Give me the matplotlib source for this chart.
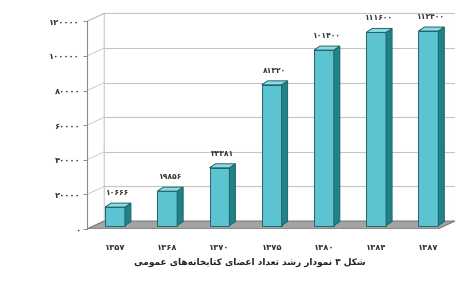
import matplotlib
matplotlib.use("Agg")
import matplotlib.pyplot as plt
from matplotlib.patches import Polygon

plt.rcParams['font.family'] = ['DejaVu Sans']

years = ["۱۳۵۷", "۱۳۶۸", "۱۳۷۰", "۱۳۷۵", "۱۳۸۰", "۱۳۸۴", "۱۳۸۷"]
members = [10666, 19856, 33381, 81320, 101400, 111600, 112400]
y_ticks = [0, 20000, 40000, 60000, 80000, 100000, 120000]
caption = "شکل ۳ نمودار رشد تعداد اعضای کتابخانه‌های عمومی"

FA_DIGITS = "۰۱۲۳۴۵۶۷۸۹"


def fa_num(n):
    return "".join(FA_DIGITS[int(c)] for c in str(n))


# small arabic shaper (isolated, final, initial, medial)
FORMS = {
    "ا": (0xFE8D, 0xFE8E, None, None),
    "ب": (0xFE8F, 0xFE90, 0xFE91, 0xFE92),
    "ت": (0xFE95, 0xFE96, 0xFE97, 0xFE98),
    "خ": (0xFEA5, 0xFEA6, 0xFEA7, 0xFEA8),
    "د": (0xFEA9, 0xFEAA, None, None),
    "ر": (0xFEAD, 0xFEAE, None, None),
    "ش": (0xFEB5, 0xFEB6, 0xFEB7, 0xFEB8),
    "ض": (0xFEBD, 0xFEBE, 0xFEBF, 0xFEC0),
    "ع": (0xFEC9, 0xFECA, 0xFECB, 0xFECC),
    "ک": (0xFED9, 0xFEDA, 0xFEDB, 0xFEDC),
    "ل": (0xFEDD, 0xFEDE, 0xFEDF, 0xFEE0),
    "م": (0xFEE1, 0xFEE2, 0xFEE3, 0xFEE4),
    "ن": (0xFEE5, 0xFEE6, 0xFEE7, 0xFEE8),
    "ه": (0xFEE9, 0xFEEA, 0xFEEB, 0xFEEC),
    "و": (0xFEED, 0xFEEE, None, None),
    "ی": (0xFEEF, 0xFEF0, 0xFEF3, 0xFEF4),
}


def shape(text):
    out = []
    for i, ch in enumerate(text):
        if ch not in FORMS:
            if ch != "\u200c":
                out.append(ch)
            continue
        prev = text[i - 1] if i > 0 else ""
        nxt = text[i + 1] if i + 1 < len(text) else ""
        jp = prev in FORMS and FORMS[prev][2] is not None
        jn = FORMS[ch][2] is not None and nxt in FORMS
        f = FORMS[ch]
        if jp and jn:
            out.append(chr(f[3]))
        elif jp:
            out.append(chr(f[1]))
        elif jn:
            out.append(chr(f[2]))
        else:
            out.append(chr(f[0]))
    return "".join(reversed(out))


fig = plt.figure(figsize=(4.74, 2.97), dpi=100)
ax = fig.add_axes([87 / 474, 68 / 297, 368 / 474, 217 / 297])

x0, x1 = -0.536, 6.51
ymax = 125400
dx, dy = 0.33, 4600          # depth of the walls
w = 0.38                     # bar front width
bdx, bdy = 0.115, 2300       # bar depth
oy = 2000                    # bar base on the floor
grid_c = "#c4c4c4"

# floor
ax.add_patch(Polygon([(x0, 0), (x1 - dx, 0), (x1, dy), (x0 + dx, dy)],
                     closed=True, facecolor="#a3a3a3", edgecolor="#7a7a7a", lw=0.8, zorder=1))
# left wall
ax.add_patch(Polygon([(x0, 0), (x0 + dx, dy), (x0 + dx, 120000 + dy), (x0, 120000)],
                     closed=True, facecolor="white", edgecolor=grid_c, lw=0.8, zorder=0))
# back wall gridlines
for t in y_ticks[1:]:
    ax.plot([x0 + dx, x1], [t + dy, t + dy], color=grid_c, lw=0.8, zorder=0)
    ax.plot([x0, x0 + dx], [t, t + dy], color=grid_c, lw=0.6, zorder=0)
ax.plot([x1, x1], [dy, 120000 + dy], color=grid_c, lw=0.8, zorder=0)

# bars
for i, v in enumerate(members):
    top = oy + v
    ax.bar(i, v, width=w, bottom=oy, color="#5cc3d1", edgecolor="#1d6468", lw=0.7, zorder=3)
    ax.add_patch(Polygon([(i + w / 2, oy), (i + w / 2 + bdx, oy + bdy),
                          (i + w / 2 + bdx, top + bdy), (i + w / 2, top)],
                         closed=True, facecolor="#1f8289", edgecolor="#1d6468", lw=0.7, zorder=3))
    ax.add_patch(Polygon([(i - w / 2, top), (i + w / 2, top),
                          (i + w / 2 + bdx, top + bdy), (i - w / 2 + bdx, top + bdy)],
                         closed=True, facecolor="#8fdbe3", edgecolor="#1d6468", lw=0.7, zorder=3))
    ax.text(i + bdx / 2, top + bdy + 3500, fa_num(v), ha="center", va="bottom",
            fontsize=5.5, fontweight="bold", color="#333333", zorder=4)

ax.set_xlim(x0, x1)
ax.set_ylim(0, ymax)
for s in ["top", "right", "bottom"]:
    ax.spines[s].set_visible(False)
ax.spines["left"].set_bounds(0, 120000)
ax.spines["left"].set_color("#8a8a8a")
ax.spines["left"].set_position(("data", x0))

ax.set_yticks(y_ticks)
ax.set_yticklabels([fa_num(t) for t in y_ticks], fontsize=6, fontweight="bold", color="#333333")
ax.tick_params(axis="y", length=3, width=0.7, color="#8a8a8a", pad=2)
ax.set_xticks(range(len(years)))
ax.set_xticklabels(years, fontsize=6, fontweight="bold", color="#333333")
ax.tick_params(axis="x", length=0, pad=10)

fig.text(250 / 474, 1 - 262 / 297, shape(caption), ha="center", va="center",
         fontsize=6.5, fontweight="bold", color="#222222")

fig.savefig("out.png", dpi=100)
